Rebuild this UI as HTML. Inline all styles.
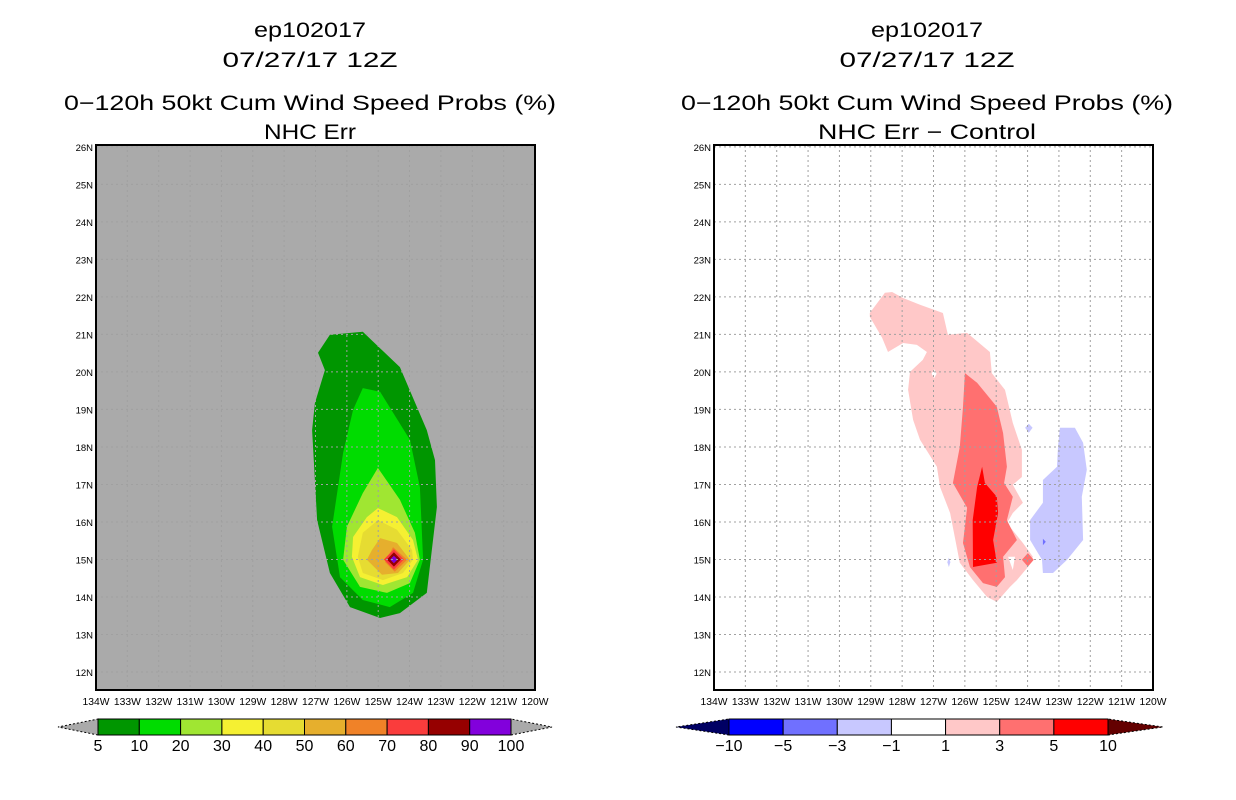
<!DOCTYPE html>
<html><head><meta charset="utf-8">
<style>
html,body{margin:0;padding:0;background:#fff;}
svg{display:block;}
text{font-family:"Liberation Sans",sans-serif;}
</style></head>
<body>
<svg id="chart" width="1236" height="800" xmlns="http://www.w3.org/2000/svg"></svg>
<script>
// ---------- data ----------
const lonTicks = [-134,-133,-132,-131,-130,-129,-128,-127,-126,-125,-124,-123,-122,-121,-120];
const latTicks = [12,13,14,15,16,17,18,19,20,21,22,23,24,25,26];
const leftColors = ["#009600","#00dc00","#a0e632","#f5f032","#e6dc32","#e6af2d","#f08228","#fa3c3c","#960000","#8200dc"];
const leftLevels = ["5","10","20","30","40","50","60","70","80","90","100"];
const rightColors = ["#0000ff","#7070ff","#c8c8ff","#ffffff","#ffc8c8","#ff7070","#ff0000"];
const rightLevels = ["\u221210","\u22125","\u22123","\u22121","1","3","5","10"];

// Left panel contours (lon, lat), outermost first
const probBand5 = [[-126.54,20.99],[-125.49,21.07],[-124.31,20.13],[-123.45,18.45],[-123.19,17.65],[-123.13,16.40],[-123.45,14.11],[-124.31,13.57],[-124.94,13.44],[-125.90,13.73],[-126.54,14.64],[-126.95,16.05],[-127.11,18.45],[-127.02,19.17],[-126.70,20.05],[-126.92,20.51]];
const probBand10 = [[-125.49,19.57],[-124.94,19.47],[-123.99,18.19],[-123.67,16.93],[-123.57,14.99],[-123.89,14.11],[-124.63,13.73],[-125.49,13.92],[-126.22,14.53],[-126.47,15.87],[-126.12,17.84],[-125.80,18.99]];
const probBand20 = [[-125.01,17.44],[-124.31,16.59],[-123.83,15.71],[-123.67,14.99],[-123.99,14.37],[-124.72,14.11],[-125.58,14.27],[-126.12,14.99],[-126.00,15.87],[-125.49,16.77]];
const probBand30 = [[-125.01,16.37],[-124.40,16.13],[-123.89,15.52],[-123.73,14.99],[-124.08,14.53],[-124.85,14.32],[-125.58,14.53],[-125.84,15.07],[-125.80,15.60],[-125.36,16.13]];
const probBand40 = [[-125.01,16.05],[-124.40,15.79],[-123.92,15.25],[-123.89,14.99],[-124.21,14.64],[-124.85,14.45],[-125.49,14.64],[-125.65,15.07],[-125.49,15.71]];
const probBand50 = [[-124.94,15.57],[-124.40,15.44],[-123.99,14.99],[-124.37,14.64],[-124.88,14.59],[-125.36,14.99],[-125.20,15.25]];
const probBand60 = [[-124.53,15.33],[-124.08,14.99],[-124.47,14.67],[-124.78,14.93]];
const probBand70 = [[-124.50,15.27],[-124.18,15.0],[-124.50,14.73],[-124.82,15.0]];
const probBand80 = [[-124.50,15.19],[-124.28,15.0],[-124.50,14.81],[-124.72,15.0]];
const probBand90 = [[-124.50,15.10],[-124.38,15.0],[-124.50,14.90],[-124.62,15.0]];

// Right panel difference contours
const diffPos1 = [[-129.03,21.57],[-128.55,22.11],[-128.32,22.13],[-127.97,21.97],[-127.43,21.79],[-126.70,21.57],[-126.54,20.99],[-125.93,21.04],[-125.20,20.53],[-125.14,19.97],[-124.72,19.52],[-124.47,18.64],[-124.18,17.92],[-124.18,17.20],[-124.47,16.99],[-124.15,16.51],[-124.47,16.24],[-124.66,15.97],[-124.15,15.44],[-123.83,15.07],[-123.99,14.80],[-124.34,14.45],[-124.56,14.27],[-124.98,13.87],[-125.29,14.00],[-125.74,14.45],[-126.16,14.91],[-126.47,16.24],[-126.79,16.93],[-126.89,17.47],[-127.43,18.19],[-127.65,18.72],[-127.81,19.52],[-127.75,20.00],[-127.34,20.32],[-127.21,20.53],[-127.53,20.72],[-127.97,20.77],[-128.45,20.53],[-128.64,20.91],[-129.03,21.47]];
const diffHoleA = [[-126.98,20.07],[-126.90,19.95],[-126.98,19.83],[-127.06,19.95]];
const diffHoleB = [[-124.62,15.07],[-124.40,15.07],[-124.47,14.72]];
const diffPos3 = [[-126.00,19.97],[-125.61,19.71],[-124.98,19.07],[-124.78,18.37],[-124.66,17.47],[-124.75,17.04],[-124.47,16.67],[-124.66,16.05],[-124.34,15.52],[-124.78,15.07],[-124.72,14.53],[-124.98,14.27],[-125.42,14.37],[-125.84,14.80],[-126.06,15.44],[-125.93,16.38],[-126.38,17.04],[-126.16,18.00],[-126.06,19.07]];
const diffPos5 = [[-125.45,17.47],[-125.36,17.04],[-124.98,16.67],[-124.94,16.24],[-125.10,15.52],[-124.98,14.91],[-125.74,14.80],[-125.75,16.05],[-125.61,16.93]];
const diffPos3b = [[-123.99,15.17],[-123.80,14.99],[-123.99,14.81],[-124.18,14.99]];
const diffNeg1 = [[-122.97,18.51],[-122.49,18.51],[-122.23,18.11],[-122.11,17.39],[-122.27,16.67],[-122.23,15.52],[-122.74,14.99],[-123.19,14.64],[-123.51,14.64],[-123.54,14.99],[-123.92,15.52],[-123.92,16.05],[-123.51,16.51],[-123.51,17.12],[-123.06,17.47],[-123.03,18.00]];
const diffNeg1b = [[-123.96,18.62],[-123.84,18.51],[-123.96,18.38],[-124.08,18.51]];
const diffNeg1c = [[-126.51,15.05],[-126.46,14.93],[-126.51,14.80],[-126.56,14.93]];
const diffNeg3 = [[-123.51,15.55],[-123.42,15.47],[-123.51,15.38]];

// ---------- drawing ----------
const NS = "http://www.w3.org/2000/svg";
const svg = document.getElementById("chart");
function mk(tag, attrs, parent){
  const e = document.createElementNS(NS, tag);
  for (const k in attrs) e.setAttribute(k, attrs[k]);
  (parent||svg).appendChild(e);
  return e;
}
const LON0=-134, LON1=-120, LAT0=11.52, LAT1=26.05;
const PY0=145, PY1=690;
function makeAxes(px0){
  const px1 = px0 + 439;
  return {
    x: lon => px0 + (lon-LON0)/(LON1-LON0)*(px1-px0),
    y: lat => PY1 - (lat-LAT0)/(LAT1-LAT0)*(PY1-PY0),
    px0, px1
  };
}
function poly(ax, pts, fill, name, g){
  const p = mk("polygon", {points: pts.map(q => ax.x(q[0]).toFixed(1)+","+ax.y(q[1]).toFixed(1)).join(" "), fill: fill}, g);
  
  
  return p;
}
function title(cx, lines, lens){
  const ys=[37,67,110,139];
  lines.forEach((t,i)=>{
    const e = mk("text",{x:cx,y:ys[i],"font-size":21,"text-anchor":"middle",fill:"#000",textLength:lens[i],lengthAdjust:"spacingAndGlyphs"});
    e.textContent=t;
    
    
  });
}
function panel(px0, bg, name, drawFn){
  const ax = makeAxes(px0);
  const g = mk("g",{});
  
  
  const clipId = name+"-clip";
  const cp = mk("clipPath",{id:clipId}, g);
  mk("rect",{x:ax.px0,y:PY0,width:ax.px1-ax.px0,height:PY1-PY0},cp);
  const bgr = mk("rect",{x:ax.px0,y:PY0,width:ax.px1-ax.px0,height:PY1-PY0,fill:bg}, g);
  
  
  const dg = mk("g",{"clip-path":"url(#"+clipId+")"}, g);
  drawFn(ax, dg);
  const gg = mk("g",{stroke:"#a0a0a0","stroke-width":1,"stroke-dasharray":"2,3"}, dg);
  
  
  lonTicks.forEach(l=>{ mk("line",{x1:ax.x(l),x2:ax.x(l),y1:PY0,y2:PY1},gg); });
  latTicks.forEach(l=>{ mk("line",{x1:ax.px0,x2:ax.px1,y1:ax.y(l),y2:ax.y(l)},gg); });
  const fr = mk("rect",{x:ax.px0,y:PY0,width:ax.px1-ax.px0,height:PY1-PY0,fill:"none",stroke:"#000","stroke-width":2}, g);
  
  
  lonTicks.forEach(l=>{
    const t = mk("text",{x:ax.x(l),y:705,"font-size":10,"text-anchor":"middle",textLength:27,lengthAdjust:"spacingAndGlyphs"}, g);
    t.textContent = Math.abs(l)+"W";
    
    
  });
  latTicks.forEach(l=>{
    const t = mk("text",{x:ax.px0-3,y:ax.y(l)+4,"font-size":9.5,"text-anchor":"end"}, g);
    t.textContent = l+"N";
    
    
  });
  return ax;
}
title(310,["ep102017","07/27/17 12Z","0\u2212120h 50kt Cum Wind Speed Probs (%)","NHC Err"],[112,175,492,92]);
panel(96,"#aaaaaa","left-panel",(ax,g)=>{
  const bands=[probBand5,probBand10,probBand20,probBand30,probBand40,probBand50,probBand60,probBand70,probBand80,probBand90];
  bands.forEach((b,i)=>poly(ax,b,leftColors[i],"prob-contour-"+leftLevels[i],g));
});
title(927,["ep102017","07/27/17 12Z","0\u2212120h 50kt Cum Wind Speed Probs (%)","NHC Err \u2212 Control"],[112,175,492,218]);
panel(714,"#ffffff","right-panel",(ax,g)=>{
  poly(ax,diffPos1,rightColors[4],"diff-contour-1",g);
  poly(ax,diffHoleA,"#ffffff","diff-hole",g);
  poly(ax,diffHoleB,"#ffffff","diff-hole",g);
  poly(ax,diffPos3,rightColors[5],"diff-contour-3",g);
  poly(ax,diffPos5,rightColors[6],"diff-contour-5",g);
  poly(ax,diffPos3b,rightColors[5],"diff-contour-3-small",g);
  poly(ax,diffNeg1,rightColors[2],"diff-contour-neg1",g);
  poly(ax,diffNeg1b,rightColors[2],"diff-contour-neg1-small",g);
  poly(ax,diffNeg1c,rightColors[2],"diff-contour-neg1-small",g);
  poly(ax,diffNeg3,rightColors[1],"diff-contour-neg3",g);
});
function colorbar(name, x0, x1, tipL, tipR, colors, labels, triL, triR){
  const g = mk("g",{stroke:"#000","stroke-width":1});
  
  
  const y0=719,y1=735,ym=727;
  const w=(x1-x0)/colors.length;
  const tl = mk("polygon",{points:`${x0},${y0} ${x0},${y1} ${tipL},${ym}`,fill:triL,"stroke-dasharray":"2,2"},g);
   
  const tr = mk("polygon",{points:`${x1},${y0} ${x1},${y1} ${tipR},${ym}`,fill:triR,"stroke-dasharray":"2,2"},g);
   
  colors.forEach((c,i)=>{
    const r = mk("rect",{x:x0+i*w,y:y0,width:w,height:y1-y0,fill:c},g);
    
    
  });
  labels.forEach((l,i)=>{
    const t = mk("text",{x:x0+i*w,y:751,"font-size":16,"text-anchor":"middle",stroke:"none",fill:"#000"},g);
    t.textContent=l;
    
    
  });
}
colorbar("left-colorbar",98,511,58,552,leftColors,leftLevels,"#aaaaaa","#aaaaaa");
colorbar("right-colorbar",729,1108,676,1163,rightColors,rightLevels,"#000064","#640000");
</script>
</body></html>
